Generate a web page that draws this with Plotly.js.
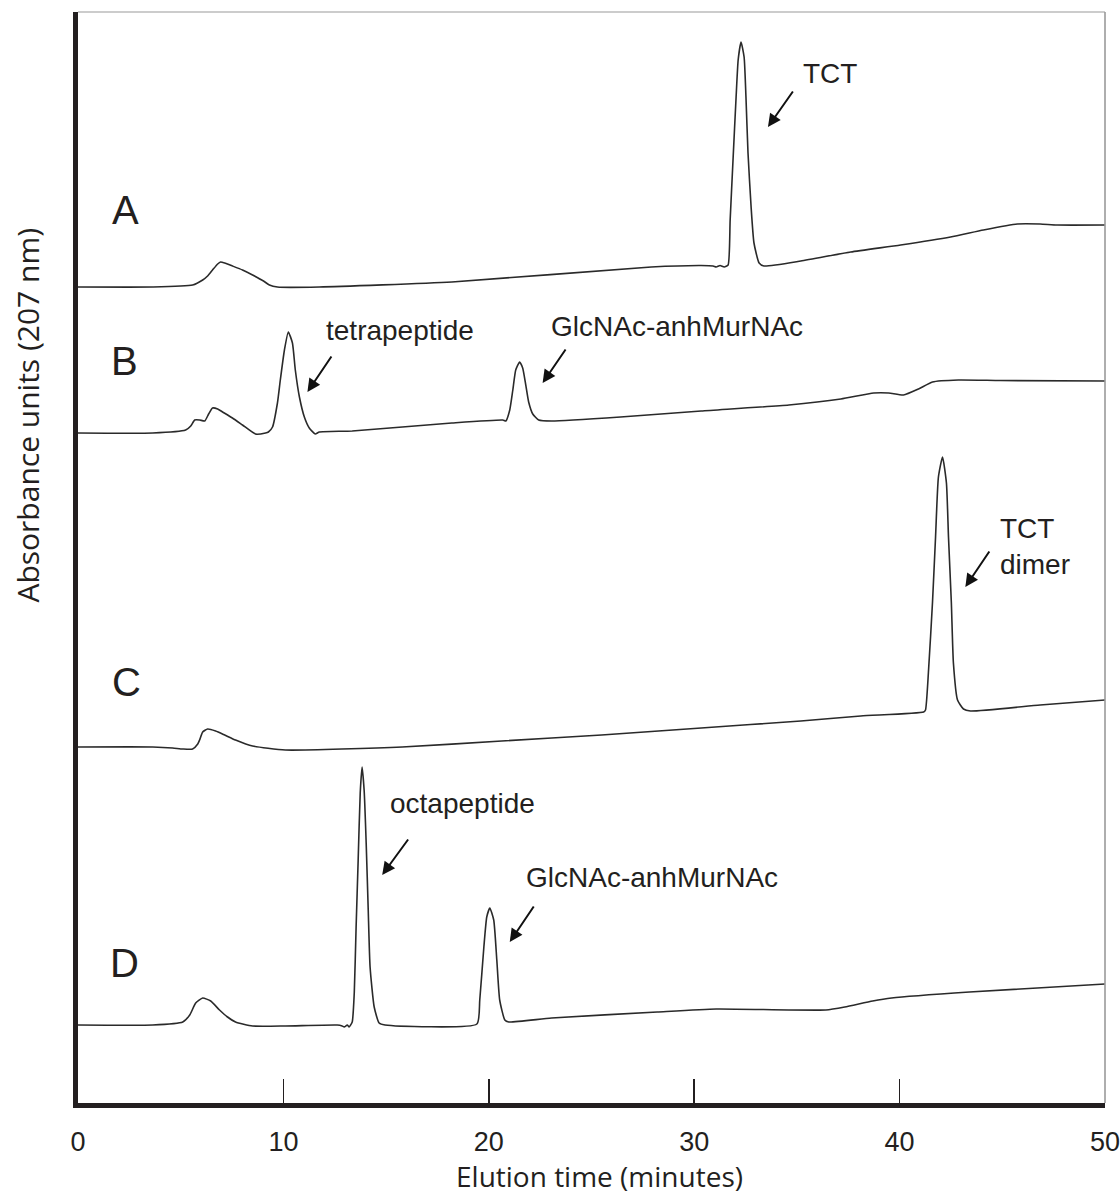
<!DOCTYPE html>
<html>
<head>
<meta charset="utf-8">
<script src="https://cdn.plot.ly/plotly-3.0.1.min.js"></script>
<style>html,body{margin:0;padding:0;background:#fff;}#chart{width:1120px;height:1199px;}</style>
</head>
<body>
<div id="chart"></div>
<script>
// Elution time (minutes) and absorbance (arbitrary units, stacked traces)
const timeA = [0, 3.64, 5.58, 6.07, 6.31, 6.55, 6.80, 6.94, 7.14, 7.52, 8.01, 8.50, 9.03, 9.32, 9.71, 11.75, 18.20, 27.91, 30.34, 30.92, 31.07, 31.26, 31.46, 31.65, 31.75, 31.89, 32.04, 32.14, 32.28, 32.43, 32.52, 32.62, 32.77, 32.91, 33.16, 33.40, 35.19, 37.62, 40.05, 42.48, 44.08, 45.73, 46.84, 47.67, 50];
const absA  = [0.819, 0.819, 0.821, 0.826, 0.830, 0.836, 0.842, 0.844, 0.843, 0.840, 0.836, 0.831, 0.825, 0.821, 0.819, 0.819, 0.824, 0.839, 0.8405, 0.840, 0.839, 0.8405, 0.839, 0.841, 0.886, 0.946, 1.009, 1.046, 1.064, 1.049, 1.009, 0.953, 0.899, 0.863, 0.843, 0.840, 0.845, 0.854, 0.861, 0.869, 0.876, 0.882, 0.882, 0.881, 0.881];

const timeB = [0, 3.64, 5.24, 5.49, 5.68, 5.92, 6.17, 6.36, 6.55, 6.80, 7.04, 7.52, 8.01, 8.64, 9.13, 9.27, 9.47, 9.71, 9.85, 10.05, 10.24, 10.44, 10.58, 10.78, 11.02, 11.26, 11.55, 11.75, 13.35, 18.20, 20.68, 20.83, 21.02, 21.17, 21.31, 21.50, 21.65, 21.80, 21.94, 22.14, 22.43, 23.06, 26.41, 30.34, 34.61, 37.14, 38.74, 39.47, 40.19, 40.92, 41.60, 42.86, 44.90, 50];
const absB  = [0.673, 0.673, 0.676, 0.680, 0.686, 0.686, 0.685, 0.692, 0.698, 0.697, 0.694, 0.688, 0.681, 0.672, 0.673, 0.674, 0.679, 0.703, 0.726, 0.756, 0.774, 0.763, 0.736, 0.709, 0.689, 0.678, 0.672, 0.674, 0.675, 0.683, 0.686, 0.685, 0.696, 0.716, 0.736, 0.744, 0.738, 0.721, 0.704, 0.692, 0.686, 0.685, 0.689, 0.695, 0.701, 0.707, 0.713, 0.713, 0.711, 0.717, 0.724, 0.726, 0.7255, 0.725];

const timeC = [0, 3.64, 4.61, 5.10, 5.58, 5.83, 5.92, 6.07, 6.31, 6.70, 7.14, 7.67, 8.50, 10.10, 15.78, 20.63, 25.49, 30.34, 35.19, 38.11, 41.17, 41.26, 41.41, 41.60, 41.75, 41.89, 42.09, 42.28, 42.38, 42.52, 42.62, 42.82, 43.11, 43.45, 46.84, 50];
const absC  = [0.359, 0.359, 0.358, 0.357, 0.357, 0.362, 0.366, 0.374, 0.377, 0.375, 0.371, 0.366, 0.360, 0.356, 0.359, 0.365, 0.371, 0.378, 0.385, 0.390, 0.394, 0.396, 0.436, 0.503, 0.569, 0.629, 0.649, 0.623, 0.569, 0.503, 0.443, 0.406, 0.397, 0.395, 0.401, 0.406];

const timeD = [0, 3.64, 5.10, 5.44, 5.73, 6.07, 6.46, 6.89, 7.28, 7.67, 8.50, 10.10, 12.62, 12.86, 12.96, 13.11, 13.20, 13.35, 13.45, 13.54, 13.64, 13.74, 13.83, 13.93, 14.03, 14.13, 14.22, 14.42, 14.66, 14.95, 19.42, 19.56, 19.76, 19.90, 20.05, 20.24, 20.39, 20.53, 20.78, 20.97, 23.06, 28.20, 31.07, 36.41, 37.33, 38.69, 39.61, 43.40, 50];
const absD  = [0.081, 0.081, 0.084, 0.091, 0.103, 0.108, 0.105, 0.096, 0.089, 0.084, 0.080, 0.080, 0.081, 0.080, 0.079, 0.081, 0.079, 0.084, 0.113, 0.179, 0.246, 0.313, 0.339, 0.316, 0.263, 0.196, 0.139, 0.099, 0.083, 0.081, 0.082, 0.106, 0.159, 0.189, 0.198, 0.186, 0.146, 0.106, 0.086, 0.084, 0.088, 0.094, 0.097, 0.096, 0.099, 0.105, 0.108, 0.114, 0.122];

const tickValues = [0, 10, 20, 30, 40, 50];
const tickLabels = ["0", "10", "20", "30", "40", "50"];
const traceNames = ["A", "B", "C", "D"];

const lineStyle = {color: "#2a2a2a", width: 1.6, shape: "spline", smoothing: 0.5};
const series = [[timeA, absA], [timeB, absB], [timeC, absC], [timeD, absD]];
const data = series.map((s, i) => ({
  x: s[0], y: s[1], type: "scatter", mode: "lines", name: traceNames[i],
  line: lineStyle, hoverinfo: "skip", showlegend: false
}));

const ink = "#231f20";
const labelFont = {family: "Liberation Sans, Arial, sans-serif", size: 28, color: ink};
const letterFont = {family: "Liberation Sans, Arial, sans-serif", size: 40, color: ink};

function arrow(x, y, ax, ay) {
  return {x: x, y: y, xref: "x", yref: "y", ax: ax, ay: ay, text: "", showarrow: true,
          arrowhead: 2, arrowsize: 1.3, arrowwidth: 2, arrowcolor: "#111", standoff: 0};
}
function label(x, y, text, font, xanchor) {
  return {x: x, y: y, xref: "x", yref: "y", text: text, showarrow: false, font: font,
          xanchor: xanchor || "center", yanchor: "middle", align: "left"};
}

const annotations = [
  label(2.33, 0.896, "A", letterFont),
  label(2.28, 0.745, "B", letterFont),
  label(2.38, 0.424, "C", letterFont),
  label(2.28, 0.143, "D", letterFont),
  label(35.2, 1.033, "TCT", labelFont, "left"),
  label(11.99, 0.776, "tetrapeptide", labelFont, "left"),
  label(22.91, 0.780, "GlcNAc-anhMurNAc", labelFont, "left"),
  label(44.81, 0.560, "TCT<br>dimer", labelFont, "left"),
  label(15.10, 0.303, "octapeptide", labelFont, "left"),
  label(21.70, 0.229, "GlcNAc-anhMurNAc", labelFont, "left"),
  arrow(33.59, 0.979, 26, -37),
  arrow(11.17, 0.714, 25, -37),
  arrow(22.62, 0.723, 24, -35),
  arrow(43.20, 0.519, 25, -37),
  arrow(14.81, 0.231, 27, -37),
  arrow(21.02, 0.164, 25, -37),
  {xref: "paper", yref: "paper", x: -0.0487, y: 0.631, text: "Absorbance units (207 nm)",
   textangle: -90, showarrow: false, xanchor: "center", yanchor: "middle",
   font: {family: "Open Sans, Noto Sans, sans-serif", size: 30, color: ink}},
  {xref: "paper", yref: "paper", x: 0.508, y: -0.067, text: "Elution time (minutes)",
   showarrow: false, xanchor: "center", yanchor: "middle",
   font: {family: "Open Sans, Noto Sans, sans-serif", size: 28, color: ink}}
];

const layout = {
  width: 1120, height: 1199,
  margin: {l: 78, r: 15, t: 12, b: 96, pad: 0},
  paper_bgcolor: "#fff", plot_bgcolor: "#fff",
  showlegend: false,
  xaxis: {
    range: [0, 50], tickmode: "array", tickvals: tickValues, ticktext: tickLabels,
    ticks: "inside", ticklen: 24, tickwidth: 1.5, tickcolor: ink,
    showline: true, linewidth: 5, linecolor: ink, showgrid: false, zeroline: false,
    tickfont: {family: "Liberation Sans, Arial, sans-serif", size: 27, color: ink},
    ticklabelstandoff: 11, ticklabeloverflow: "allow",
    fixedrange: true
  },
  yaxis: {
    range: [0.003, 1.094], showticklabels: false, ticks: "",
    showline: true, linewidth: 5, linecolor: ink, showgrid: false, zeroline: false,
    fixedrange: true
  },
  shapes: [
    {type: "line", xref: "paper", yref: "paper", x0: 0, x1: 1, y0: 1, y1: 1,
     line: {color: "#9a9a9a", width: 1.2}, layer: "above"},
    {type: "line", xref: "paper", yref: "paper", x0: 1, x1: 1, y0: 0, y1: 1,
     line: {color: "#9a9a9a", width: 1.6}, layer: "above"}
  ],
  annotations: annotations
};

Plotly.newPlot("chart", data, layout, {displayModeBar: false, staticPlot: true});
</script>
</body>
</html>
